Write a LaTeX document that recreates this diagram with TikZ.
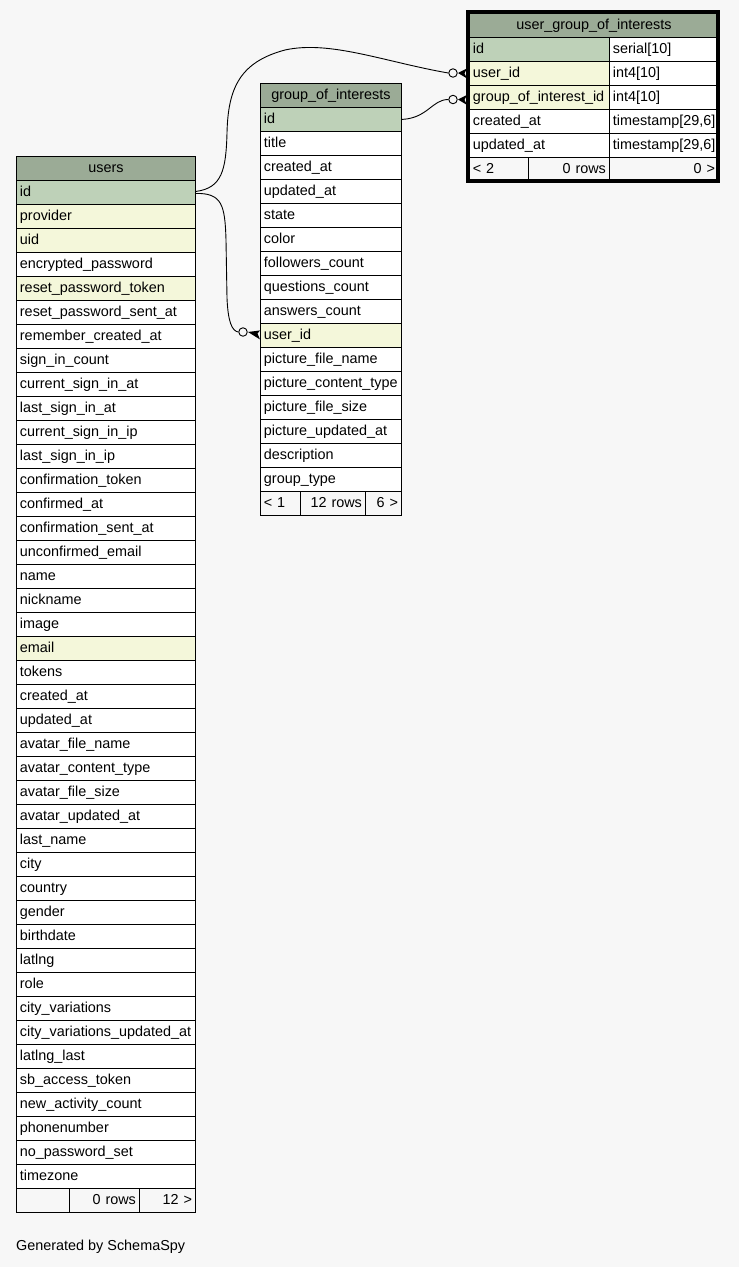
\documentclass[tikz,border=0pt]{standalone}
\usepackage{fontspec}
\setmainfont{Liberation Sans}
\usetikzlibrary{calc}
\definecolor{bgc}{HTML}{F7F7F7}
\definecolor{hdrc}{HTML}{9BAB96}
\definecolor{pkc}{HTML}{BED1B8}
\definecolor{ixc}{HTML}{F4F7DA}
\tikzset{
  cell/.style={draw=black, line width=0.9pt, anchor=north west, minimum height=24pt,
    inner xsep=3.5pt, inner ysep=0pt, text height=11pt, text depth=2pt, align=left,
    font=\fontsize{14.4}{16}\selectfont},
  hdrcell/.style={cell, fill=hdrc, align=center},
  rowpk/.style={fill=pkc},
  rowix/.style={fill=ixc},
  rowplain/.style={fill=white},
  footcell/.style={cell, fill=bgc, align=right},
  footleft/.style={cell, fill=bgc, align=left},
  ring/.style={circle, draw=black, line width=0.9pt, fill=bgc, minimum size=8.5pt, inner sep=0pt},
  rel/.style={draw=black, line width=0.9pt},
}
\begin{document}
\begin{tikzpicture}[x=1pt, y=-1pt]
\fill[bgc] (0,0) rectangle (739,1267);
\useasboundingbox (0,0) rectangle (739,1267);

% ---------------- users ----------------
\node[hdrcell, text width=172pt] (users) at (16,156) {users};
\foreach \t/\k [count=\i from 1] in {
  id/rowpk, provider/rowix, uid/rowix, encrypted\_password/rowplain,
  reset\_password\_token/rowix, reset\_password\_sent\_at/rowplain,
  remember\_created\_at/rowplain, sign\_in\_count/rowplain,
  current\_sign\_in\_at/rowplain, last\_sign\_in\_at/rowplain,
  current\_sign\_in\_ip/rowplain, last\_sign\_in\_ip/rowplain,
  confirmation\_token/rowplain, confirmed\_at/rowplain,
  confirmation\_sent\_at/rowplain, unconfirmed\_email/rowplain,
  name/rowplain, nickname/rowplain, image/rowplain, email/rowix,
  tokens/rowplain, created\_at/rowplain, updated\_at/rowplain,
  avatar\_file\_name/rowplain, avatar\_content\_type/rowplain,
  avatar\_file\_size/rowplain, avatar\_updated\_at/rowplain,
  last\_name/rowplain, city/rowplain, country/rowplain, gender/rowplain,
  birthdate/rowplain, latlng/rowplain, role/rowplain,
  city\_variations/rowplain, city\_variations\_updated\_at/rowplain,
  latlng\_last/rowplain, sb\_access\_token/rowplain,
  new\_activity\_count/rowplain, phonenumber/rowplain,
  no\_password\_set/rowplain, timezone/rowplain}
  \node[cell, \k, text width=172pt] (u\i) at (16,{180+24*(\i-1)}) {\t};
\node[footleft, text width=46pt] (uf1) at (16,1188) {};
\node[footcell, text width=63pt] (uf2) at (69,1188) {0 rows};
\node[footcell, text width=49pt] (uf3) at (139,1188) {12 >};

% ---------------- group_of_interests ----------------
\node[hdrcell, text width=134pt] (goi) at (260,83) {group\_of\_interests};
\foreach \t/\k [count=\i from 1] in {
  id/rowpk, title/rowplain, created\_at/rowplain, updated\_at/rowplain,
  state/rowplain, color/rowplain, followers\_count/rowplain,
  questions\_count/rowplain, answers\_count/rowplain, user\_id/rowix,
  picture\_file\_name/rowplain, picture\_content\_type/rowplain,
  picture\_file\_size/rowplain, picture\_updated\_at/rowplain,
  description/rowplain, group\_type/rowplain}
  \node[cell, \k, text width=134pt] (g\i) at (260,{107+24*(\i-1)}) {\t};
\node[footleft, text width=33pt] (gf1) at (260,491) {< 1};
\node[footcell, text width=58pt] (gf2) at (300,491) {12 rows};
\node[footcell, text width=29pt] (gf3) at (365,491) {6 >};

% ---------------- user_group_of_interests ----------------
\node[hdrcell, text width=242pt] (ugoi) at (469,13) {user\_group\_of\_interests};
\foreach \t/\ty/\k [count=\i from 1] in {
  id/serial[10]/rowpk, user\_id/int4[10]/rowix,
  group\_of\_interest\_id/int4[10]/rowix,
  created\_at/timestamp[29{,}6]/rowplain, updated\_at/timestamp[29{,}6]/rowplain}
{
  \node[cell, \k, text width=133pt] (r\i) at (469,{37+24*(\i-1)}) {\t};
  \node[cell, rowplain, text width=102pt] (r\i t) at (609,{37+24*(\i-1)}) {\ty};
}
\node[footleft, text width=52pt] (rf1) at (469,157) {< 2};
\node[footcell, text width=74pt] (rf2) at (528,157) {0 rows};
\node[footcell, text width=102pt] (rf3) at (609,157) {0 >};
\draw[line width=3.6pt] (468,12) rectangle (718.2,181.2);

% ---------------- relationships ----------------
\node[ring] (o1) at (453,73) {};
\node[ring] (o2) at (453,99.5) {};
\node[ring] (o3) at (243,332) {};

\path[rel] ($(u1.east)+(0,-1)$) .. controls (222,188) and (226,170) .. (227,133)
  .. controls (228,88) and (240,62) .. (285,50)
  .. controls (330,40) and (385,62) .. (o1.west);
\path[rel] (g1.east) .. controls (428,118) and (432,99.5) .. (o2.west);
\path[rel] ($(u1.east)+(0,1)$) .. controls (222,193) and (225,205) .. (226,240)
  -- (227,298) .. controls (228,322) and (232,331) .. (o3.west);

\fill ($(o1.east)+(0.3,0)$) -- ($(r2.west)+(-2,-5)$) -- ($(r2.west)+(-4.5,0)$) -- ($(r2.west)+(-2,5)$) -- cycle;
\fill ($(o2.east)+(0.3,0)$) -- ($(r3.west)+(-2,-2.5)$) -- ($(r3.west)+(-4.5,2.5)$) -- ($(r3.west)+(-2,7.5)$) -- cycle;
\fill ($(o3.east)+(0.3,0)$) -- ($(g10.west)+(0,-5)$) -- ($(g10.west)+(-2.5,-2)$) -- ($(g10.west)+(0,4)$) -- cycle;

\node[anchor=west, inner sep=0pt, font=\fontsize{14.4}{16}\selectfont] (gen) at (16,1247) {Generated by SchemaSpy};
\end{tikzpicture}
\end{document}
